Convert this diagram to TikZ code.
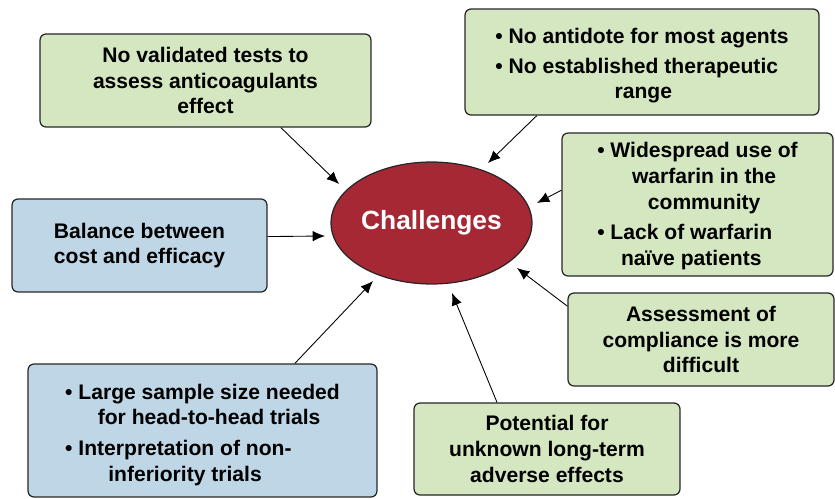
\documentclass[tikz,border=0pt]{standalone}
\usepackage{fontspec}
\setmainfont{Liberation Sans}
\usetikzlibrary{arrows.meta,shapes.geometric}

\definecolor{boxgreen}{RGB}{212,231,193}
\definecolor{boxblue}{RGB}{190,214,229}
\definecolor{chalred}{RGB}{166,40,52}

% bullet with its wrapped lines centred under the first one
\newcommand{\bul}[1]{\textbullet\ \begin{tabular}[t]{@{}c@{}}#1\end{tabular}}

\tikzset{
  box/.style={draw=black!85, line width=0.7pt, rounded corners=0.12cm, inner sep=0pt,
    align=center, font=\bfseries\fontsize{12}{14.6}\selectfont},
  greenbox/.style={box, fill=boxgreen},
  bluebox/.style={box, fill=boxblue},
  arr/.style={-{Latex[length=7pt,width=6pt]}, line width=0.5pt}
}

\begin{document}
\begin{tikzpicture}[x=0.02cm, y=-0.02cm]
\useasboundingbox (0,0) rectangle (835,498);

% centre
\node[ellipse, draw=black!85, line width=0.7pt, fill=chalred, text=white,
  minimum width=4.02cm, minimum height=2.44cm, inner sep=0pt,
  font=\bfseries\fontsize{15}{18}\selectfont] (chal) at (431.5,223) {Challenges};

% boxes
\node[greenbox, minimum width=6.62cm, minimum height=1.86cm] (tests) at (205.5,80.5)
  {No validated tests to\\assess anticoagulants\\effect};
\node[bluebox, minimum width=5.1cm, minimum height=1.86cm] (balance) at (139.5,245.5)
  {Balance between\\cost and efficacy};
\node[greenbox, minimum width=7.08cm, minimum height=2.12cm, align=left] (antidote) at (642,62)
  {\rule{0pt}{15pt}\bul{No antidote for most agents}\\[2pt]\bul{No established therapeutic\\range}};
\node[greenbox, minimum width=5.42cm, minimum height=2.86cm, align=left] (warfarin) at (697.5,204.5)
  {\rule{0pt}{12.5pt}\bul{Widespread use of\\warfarin in the\\community}\\[2pt]\bul{Lack of warfarin\\naïve patients}};
\node[greenbox, minimum width=5.32cm, minimum height=1.86cm] (compliance) at (701,339.5)
  {Assessment of\\compliance is more\\difficult};
\node[greenbox, minimum width=5.32cm, minimum height=1.84cm] (potential) at (547,449)
  {Potential for\\unknown long-term\\adverse effects};
\node[bluebox, minimum width=6.98cm, minimum height=2.66cm, align=left] (sample) at (202.5,430.5)
  {\rule{0pt}{15.5pt}\bul{Large sample size needed\\for head-to-head trials}\\[2pt]\bul{Interpretation of non-\\inferiority trials}};

% arrow tips, short of the ellipse
\coordinate (t1) at (339,184);
\coordinate (t2) at (325,236);
\coordinate (t3) at (488,163);
\coordinate (t4) at (537,203);
\coordinate (t5) at (517,268);
\coordinate (t6) at (452,293);
\coordinate (t7) at (373,281);

% arrows
\draw[arr] (tests.-32) -- (t1);
\draw[arr] (balance.4) -- (t2);
\draw[arr] (antidote.207) -- (t3);
\draw[arr] (warfarin.174) -- (t4);
\draw[arr] (compliance.166) -- (t5);
\draw[arr] (potential.137) -- (t6);
\draw[arr] (sample.36) -- (t7);

\end{tikzpicture}
\end{document}
